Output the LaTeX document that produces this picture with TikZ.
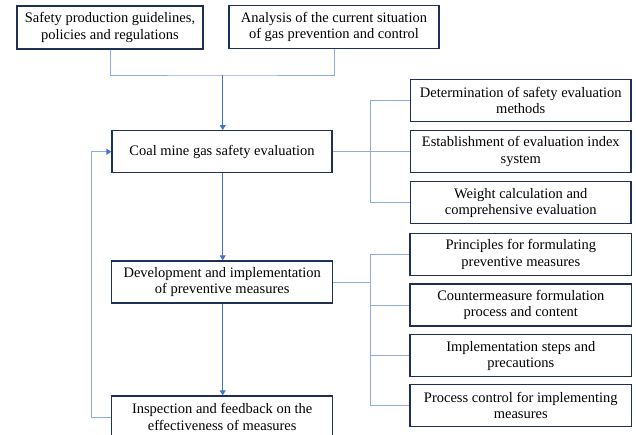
\documentclass[tikz,border=0pt]{standalone}
\usepackage{fontspec}
\setmainfont{Liberation Serif}
\usetikzlibrary{arrows.meta}
\definecolor{boxcol}{HTML}{1F2F55}
\definecolor{linecol}{HTML}{8FAADC}
\definecolor{arrcol}{HTML}{4472C4}
\tikzset{
  box/.style={draw=boxcol, line width=1.3pt, fill=white, align=center, inner sep=0pt,
    font=\fontsize{14.5}{16.5}\selectfont, minimum height=42pt},
  link/.style={draw=linecol, line width=1pt},
  arr/.style={draw=arrcol, line width=1pt, -{Triangle[width=6pt,length=5pt]}},
  fb/.style={draw=linecol, line width=1pt, -{Triangle[width=6pt,length=5pt,color=arrcol]}}
}
\begin{document}
\begin{tikzpicture}[x=1pt,y=-1pt]
\useasboundingbox (0,0) rectangle (636,434);
% top boxes
\node[box, minimum width=186pt, minimum height=43pt] (A) at (110,27.5) {Safety production guidelines,\\policies and regulations};
\node[box, minimum width=210pt, minimum height=43pt] (B) at (334,27) {Analysis of the current situation\\of gas prevention and control};
% main column
\node[box, minimum width=220pt] (C) at (222,151.7) {Coal mine gas safety evaluation};
\node[box, minimum width=221pt] (E) at (222.2,282) {Development and implementation\\of preventive measures};
\node[box, minimum width=221pt] (F) at (222.2,417) {Inspection and feedback on the\\effectiveness of measures};
% right column 1
\node[box, minimum width=220.3pt] (D1) at (520.8,100.5) {Determination of safety evaluation\\methods};
\node[box, minimum width=220.3pt] (D2) at (520.8,151.7) {Establishment of evaluation index\\system};
\node[box, minimum width=220.3pt] (D3) at (520.8,202.8) {Weight calculation and\\comprehensive evaluation};
% right column 2
\node[box, minimum width=221.7pt] (G1) at (520.8,254.2) {Principles for formulating\\preventive measures};
\node[box, minimum width=221.7pt] (G2) at (520.8,305) {Countermeasure formulation\\process and content};
\node[box, minimum width=221.7pt] (G3) at (520.8,355.8) {Implementation steps and\\precautions};
\node[box, minimum width=221.7pt] (G4) at (520.8,405.3) {Process control for implementing\\measures};
% merge of the top boxes
\coordinate (m) at (222.7,75);
\draw[link] (A.south) |- (m) -| (B.south);
\draw[arr] (m) -- (C.north -| m);
% main arrows
\draw[arr] (C.south -| m) -- (E.north -| m);
\draw[arr] (E.south -| m) -- (F.north -| m);
% feedback
\draw[fb] (F.west) -- ++(-19.5,0) |- (C.west);
% bus 1
\coordinate (b1) at (370.7,0);
\draw[link] (C.east) -- (D2.west);
\draw[link] (D1.west) -- (D1.west -| b1) |- (D3.west);
% bus 2
\coordinate (b2) at (370,0);
\draw[link] (G1.west) -- (G1.west -| b2) |- (G4.west);
\draw[link] (G2.west) -- (G2.west -| b2);
\draw[link] (G3.west) -- (G3.west -| b2);
\draw[link] (E.east) -- (E.east -| b2);
\end{tikzpicture}
\end{document}
